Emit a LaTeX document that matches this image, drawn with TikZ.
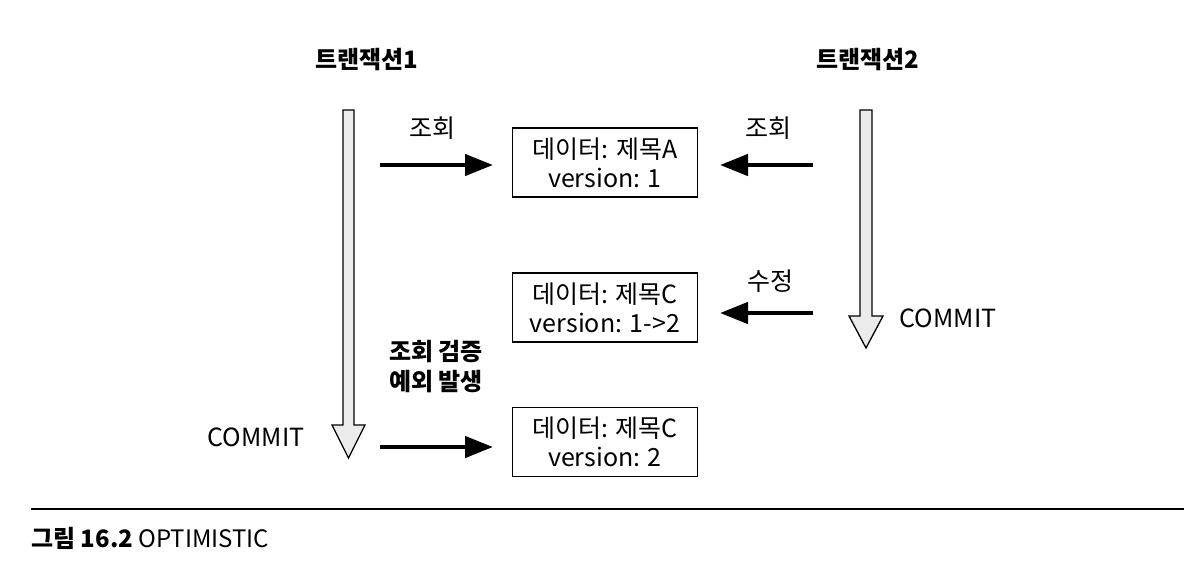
\documentclass[tikz,border=0pt]{standalone}
\usepackage{fontspec}
\setmainfont{Noto Sans CJK KR}
\usetikzlibrary{arrows.meta}
\begin{document}
\begin{tikzpicture}[x=1pt,y=-1pt,
  databox/.style={draw=black,line width=1.4pt,minimum width=185pt,minimum height=69pt,inner sep=0pt,align=center,font=\fontsize{25}{29}\selectfont},
  lbl/.style={font=\fontsize{25}{29}\selectfont,inner sep=0pt},
  ttl/.style={font=\fontsize{24}{28}\selectfont\bfseries,inner sep=0pt},
  blk/.style={line width=4.5pt,-{Triangle[length=28pt,width=21pt]}},
  fat/.style={draw=black,line width=1.3pt,fill=black!8,line join=miter}]
\useasboundingbox (0,0) rectangle (1184,574);
% titles
\node[ttl] (t1) at (367,60) {트랜잭션1};
\node[ttl] (t2) at (868,60) {트랜잭션2};
% fat time arrows
\draw[fat] (343,110) -- (354,110) -- (354,425) -- (365,425) -- (348.5,458) -- (332,425) -- (343,425) -- cycle;
\draw[fat] (860,110) -- (872,110) -- (872,316) -- (883,316) -- (866,348) -- (849,316) -- (860,316) -- cycle;
% boxes
\node[databox] (b1) at (605,162.5) {데이터: 제목A\\version: 1};
\node[databox] (b2) at (605,307.5) {데이터: 제목C\\version: 1->2};
\node[databox] (b3) at (605,442) {데이터: 제목C\\version: 2};
% arrow endpoints
\coordinate (s1) at (380,165);
\coordinate (e1) at (493,165);
\coordinate (s2) at (813,165);
\coordinate (e2) at (720,165);
\coordinate (s3) at (813,313);
\coordinate (e3) at (720,313);
\coordinate (s4) at (380,447);
\coordinate (e4) at (493,447);
\draw[blk] (s1) -- (e1);
\draw[blk] (s2) -- (e2);
\draw[blk] (s3) -- (e3);
\draw[blk] (s4) -- (e4);
% labels
\node[lbl] (l1) at (432,128) {조회};
\node[lbl] (l2) at (768,128) {조회};
\node[lbl] (l3) at (770,281) {수정};
\node[lbl] (c2) at (948,318) {COMMIT};
\node[lbl] (c1) at (256,437) {COMMIT};
\node[font=\fontsize{24}{30}\selectfont\bfseries,align=center,inner sep=0pt] (l4) at (436,367) {조회 검증\\예외 발생};
% caption
\coordinate (r1) at (31,509);
\coordinate (r2) at (1184,509);
\draw[line width=1.2pt] (r1) -- (r2);
\node[anchor=west,inner sep=0pt,font=\fontsize{24}{28}\selectfont] (cap) at (31,538) {\textbf{그림 16.2} OPTIMISTIC};
\end{tikzpicture}
\end{document}
